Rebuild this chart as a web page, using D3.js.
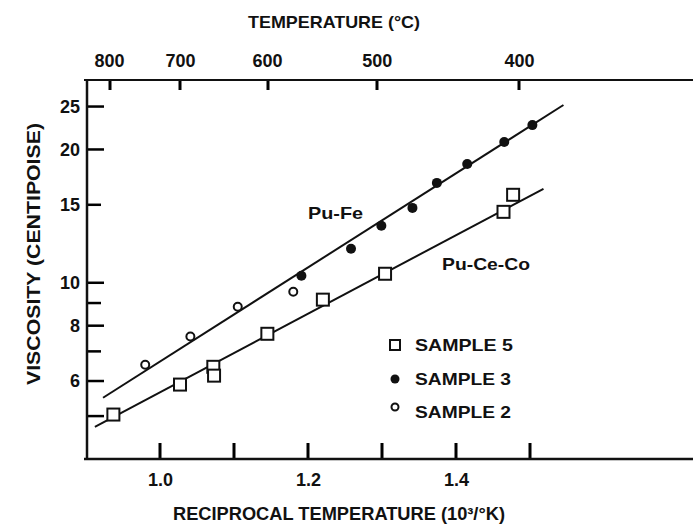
<!DOCTYPE html>
<html>
<head>
<meta charset="utf-8">
<script src="https://cdn.jsdelivr.net/npm/d3@7"></script>
<style>
  body { margin: 0; background: #fff; }
  text { font-family: "Liberation Sans", Arial, sans-serif; font-weight: bold; fill: #111; }
</style>
</head>
<body>
<div id="chart"></div>
<script>
// reciprocal temperature (10^3/K) and viscosity (centipoise)
var sample5X = [0.937, 1.027, 1.072, 1.073, 1.145, 1.220, 1.304, 1.464, 1.477];
var sample5Y = [5.04, 5.89, 6.46, 6.17, 7.67, 9.16, 10.48, 14.46, 15.8];
var sample3X = [1.191, 1.258, 1.299, 1.341, 1.374, 1.415, 1.465, 1.503];
var sample3Y = [10.37, 11.93, 13.45, 14.76, 16.81, 18.54, 20.8, 22.7];
var sample2X = [0.980, 1.041, 1.105, 1.180];
var sample2Y = [6.53, 7.56, 8.83, 9.54];
var puFeX = [0.923, 1.545];
var puFeY = [5.50, 25.2];
var puCeCoX = [0.912, 1.518];
var puCeCoY = [4.73, 16.3];
var xTicks = [1.0, 1.1, 1.2, 1.3, 1.4, 1.5];
var xLabels = [1.0, 1.2, 1.4];
var yTicks = [5, 6, 7, 8, 9, 10, 15, 20, 25];
var yLabels = [6, 8, 10, 15, 20, 25];
var tempTicks = [800, 700, 600, 500, 400];
var legendNames = ["SAMPLE 5", "SAMPLE 3", "SAMPLE 2"];

var W = 693, H = 528;
var box = {left: 87, right: 693, top: 80, bottom: 459};

var svg = d3.select("#chart").append("svg")
    .attr("width", W)
    .attr("height", H);

var x = d3.scaleLinear().domain([0.9, 1.72]).range([86, 693]);
var y = d3.scaleLog().domain([4, 28.7]).range([box.bottom, box.top]);

// bottom axis labels
var xAxis = d3.axisBottom(x).tickValues(xLabels).tickSize(0).tickFormat(d3.format(".1f"));
var gx = svg.append("g").attr("transform", "translate(0," + box.bottom + ")").call(xAxis);
gx.select(".domain").remove();
gx.selectAll(".tick line").remove();
gx.selectAll(".tick text").attr("y", 14).style("font-size", "18px").attr("fill", "#111");

// left axis labels
var yAxis = d3.axisLeft(y).tickValues(yLabels).tickSize(0).tickFormat(function(d) { return d; });
var gy = svg.append("g").attr("transform", "translate(" + box.left + ",0)").call(yAxis);
gy.select(".domain").remove();
gy.selectAll(".tick line").remove();
gy.selectAll(".tick text").attr("x", -7).style("font-size", "18px").attr("fill", "#111");

// top axis labels (temperature in C)
svg.append("g").selectAll("text").data(tempTicks).enter().append("text")
    .attr("x", function(d) { return x(1000 / (d + 273.15)); })
    .attr("y", box.top - 13).attr("text-anchor", "middle").style("font-size", "18px")
    .text(function(d) { return d; });

// titles
svg.append("text").attr("x", 334).attr("y", 28).attr("text-anchor", "middle")
    .style("font-size", "17px").attr("textLength", 172).attr("lengthAdjust", "spacingAndGlyphs")
    .text("TEMPERATURE (\u00b0C)");
svg.append("text").attr("x", 339).attr("y", 520).attr("text-anchor", "middle")
    .style("font-size", "18px").attr("textLength", 332).attr("lengthAdjust", "spacingAndGlyphs")
    .text("RECIPROCAL TEMPERATURE (10\u00b3/\u00b0K)");
svg.append("text").attr("transform", "translate(40,254) rotate(-90)").attr("text-anchor", "middle")
    .style("font-size", "18px").attr("textLength", 262).attr("lengthAdjust", "spacingAndGlyphs")
    .text("VISCOSITY (CENTIPOISE)");

// fitted lines
var line = d3.line().x(function(d) { return x(d[0]); }).y(function(d) { return y(d[1]); });
svg.append("path").datum(d3.zip(puFeX, puFeY)).attr("d", line)
    .attr("fill", "none").attr("stroke", "#111").attr("stroke-width", 2);
svg.append("path").datum(d3.zip(puCeCoX, puCeCoY)).attr("d", line)
    .attr("fill", "none").attr("stroke", "#111").attr("stroke-width", 2);

// points
svg.selectAll(".s5").data(d3.zip(sample5X, sample5Y)).enter().append("rect")
    .attr("class", "s5")
    .attr("x", function(d) { return x(d[0]) - 6; })
    .attr("y", function(d) { return y(d[1]) - 6; })
    .attr("width", 12).attr("height", 12)
    .attr("fill", "#fff").attr("stroke", "#111").attr("stroke-width", 2);
svg.selectAll(".s3").data(d3.zip(sample3X, sample3Y)).enter().append("circle")
    .attr("class", "s3")
    .attr("cx", function(d) { return x(d[0]); })
    .attr("cy", function(d) { return y(d[1]); })
    .attr("r", 5).attr("fill", "#111");
svg.selectAll(".s2").data(d3.zip(sample2X, sample2Y)).enter().append("circle")
    .attr("class", "s2")
    .attr("cx", function(d) { return x(d[0]); })
    .attr("cy", function(d) { return y(d[1]); })
    .attr("r", 4).attr("fill", "#fff").attr("stroke", "#111").attr("stroke-width", 2);

// line labels
svg.append("text").attr("x", x(1.2)).attr("y", y(13.9)).style("font-size", "17px")
    .attr("textLength", 55).attr("lengthAdjust", "spacingAndGlyphs").text("Pu-Fe");
svg.append("text").attr("x", x(1.381)).attr("y", y(10.7)).style("font-size", "17px")
    .attr("textLength", 88).attr("lengthAdjust", "spacingAndGlyphs").text("Pu-Ce-Co");

// legend
var legend = svg.append("g").attr("transform", "translate(395,0)");
legend.append("rect").attr("x", -5).attr("y", 340).attr("width", 10).attr("height", 10)
    .attr("fill", "#fff").attr("stroke", "#111").attr("stroke-width", 2);
legend.append("circle").attr("cx", 0).attr("cy", 379).attr("r", 4.5).attr("fill", "#111");
legend.append("circle").attr("cx", 0).attr("cy", 407).attr("r", 3.5)
    .attr("fill", "#fff").attr("stroke", "#111").attr("stroke-width", 2);
legend.selectAll(".lt").data(legendNames).enter().append("text")
    .attr("x", 20).attr("y", function(d, i) { return [351, 385, 418][i]; })
    .style("font-size", "17px").attr("textLength", function(d, i) { return [98, 96, 96][i]; })
    .attr("lengthAdjust", "spacingAndGlyphs").text(function(d) { return d; });

// tick marks as filled rects, drawn last
var ticks = svg.append("g").attr("fill", "#000");
ticks.selectAll(".xt").data(xTicks).enter().append("rect").attr("class", "xt")
    .attr("x", function(d) { return Math.round(x(d)) - 1.5; }).attr("width", 3)
    .attr("y", box.bottom - 16).attr("height", 16);
ticks.selectAll(".yt").data(yTicks).enter().append("rect").attr("class", "yt")
    .attr("x", box.left)
    .attr("width", function(d) { return (d == 7 || d == 9 || d == 15) ? 14 : 17; })
    .attr("y", function(d) { return y(d) - 1.25; }).attr("height", 2.5);
ticks.selectAll(".tt").data(tempTicks).enter().append("rect").attr("class", "tt")
    .attr("x", function(d) { return Math.round(x(1000 / (d + 273.15))) - 1.5; }).attr("width", 3)
    .attr("y", box.top).attr("height", 10);

// frame lines
svg.append("line").attr("x1", box.left).attr("x2", box.left).attr("y1", box.top).attr("y2", box.bottom)
    .attr("stroke", "#111").attr("stroke-width", 2.5);
svg.append("line").attr("x1", 84).attr("x2", box.right).attr("y1", box.bottom).attr("y2", box.bottom)
    .attr("stroke", "#111").attr("stroke-width", 2.5);
svg.append("line").attr("x1", 84).attr("x2", box.right).attr("y1", box.top).attr("y2", box.top)
    .attr("stroke", "#111").attr("stroke-width", 2);
</script>
</body>
</html>
